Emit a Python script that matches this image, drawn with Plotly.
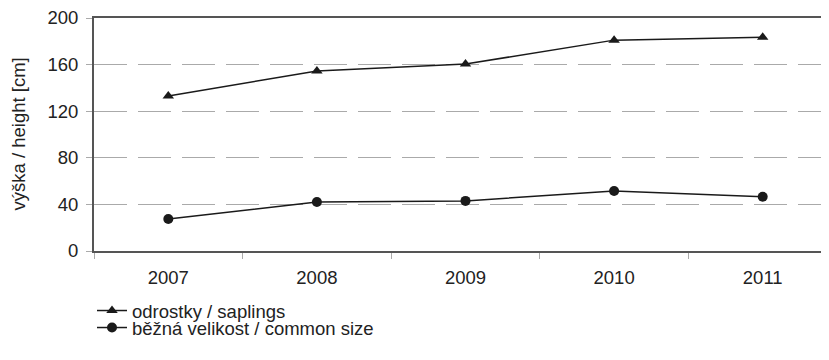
import plotly.graph_objects as go

years = ["2007", "2008", "2009", "2010", "2011"]
saplings = [133, 154.5, 160.5, 181, 183.5]
common = [27.5, 42, 43, 51.5, 46.5]
y_ticks = [0, 40, 80, 120, 160, 200]
y_title = "výška / height [cm]"

FS = 18.5
fig = go.Figure()
fig.add_trace(go.Scatter(x=years, y=saplings, mode="lines+markers",
                         name="odrostky / saplings", legend="legend",
                         line=dict(color="#1a1a1a", width=1.5),
                         marker=dict(symbol="triangle-up", size=10, color="#1a1a1a")))
fig.add_trace(go.Scatter(x=years, y=common, mode="lines+markers",
                         name="běžná velikost / common size", legend="legend2",
                         line=dict(color="#1a1a1a", width=1.5),
                         marker=dict(symbol="circle", size=10, color="#1a1a1a")))

leg_common = dict(xref="container", yref="container", x=84/829,
                  xanchor="left", yanchor="middle", orientation="v",
                  font=dict(size=FS), itemwidth=30, bgcolor="rgba(0,0,0,0)")
fig.update_layout(
    width=829, height=360,
    margin=dict(l=86, r=0, t=10, b=117, autoexpand=False),
    plot_bgcolor="white", paper_bgcolor="white",
    font=dict(family="Liberation Sans, Arial, sans-serif", size=FS, color="#222"),
    showlegend=True,
    legend=dict(y=(360 - 303) / 360, **leg_common),
    legend2=dict(y=(360 - 320) / 360, **leg_common),
    annotations=[dict(text=y_title, xref="paper", yref="paper",
                      x=(10 - 86) / 743, y=0.5, xanchor="center", yanchor="middle",
                      textangle=-90, showarrow=False, font=dict(size=FS))],
)
fig.update_xaxes(
    type="category", range=[-0.5, 4.5],
    showline=True, linecolor="#555", linewidth=2, mirror=True,
    ticks="outside", tickson="boundaries", ticklen=6, tickcolor="#aaa",
    showgrid=False, zeroline=False, ticklabelstandoff=9,
    tickfont=dict(size=FS),
)
fig.update_yaxes(
    range=[0, 200], tickvals=y_ticks,
    showline=True, linecolor="#555", linewidth=2,
    ticks="outside", ticklen=6, tickcolor="#aaa",
    showgrid=True, gridcolor="#aaa", gridwidth=1, griddash="33px,11px",
    zeroline=False, ticklabelstandoff=4, ticklabeloverflow="allow",
    tickfont=dict(size=FS),
)

fig.write_html("out.html")
